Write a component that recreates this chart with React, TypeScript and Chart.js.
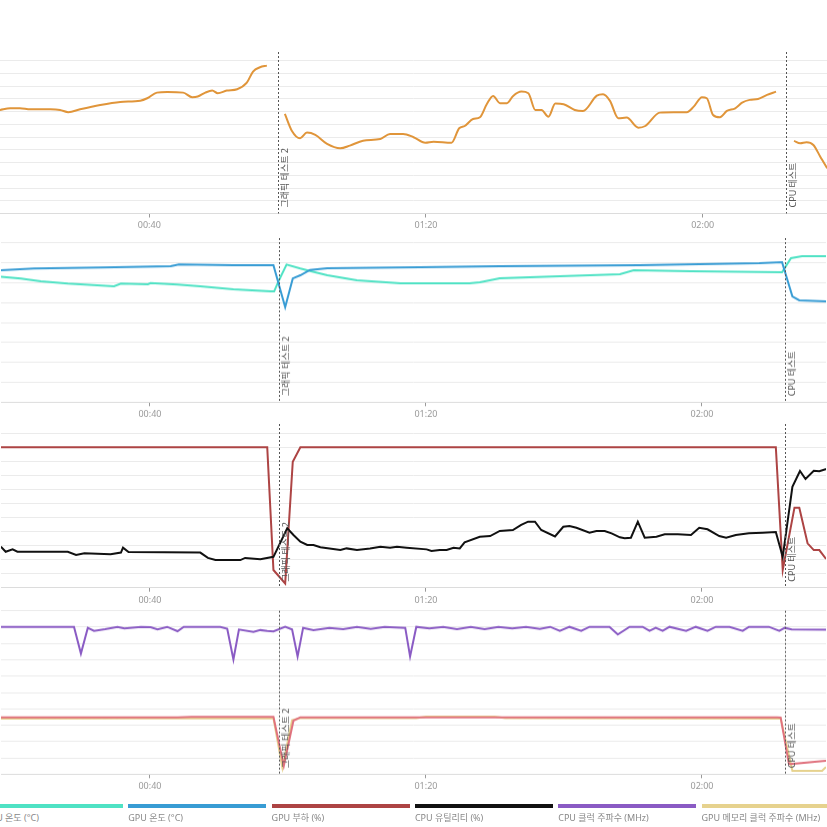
import React, { useEffect, useRef } from "react";
import { Chart, registerables } from "chart.js";

Chart.register(...registerables);

// ---------- axis / markers ----------
const X_MIN = 18.42; // minutes
const X_MAX = 137.97;
const X_TICKS = [40, 80, 120];
const X_TICK_LABELS = ["00:40", "01:20", "02:00"];
const MARKER_TIMES = [58.65, 132.05];
const MARKER_LABELS = ["그래픽 테스트 2", "CPU 테스트"];

// ---------- series: [minutes, value] ----------
const FPS: [number, number | null][] = [
  [18.4, 81.3], [19.9, 82.6], [21.3, 82.6], [22.8, 81.8], [25.7, 81.8], [27.1, 81.3], [28.3, 79.5], [30.0, 81.8],
  [32.9, 85.2], [35.8, 87.6], [38.7, 88.6], [39.7, 90.5], [41.1, 94.9], [42.6, 95.4], [44.9, 94.9], [46.2, 91.3],
  [47.0, 91.8], [48.1, 94.9], [49.1, 96.5], [49.9, 94.4], [51.2, 96.5], [52.7, 97.6], [54.1, 102.7], [55.0, 111.4],
  [56.0, 114.8], [57.0, 116.1],
  [58.3, null],
  [59.6, 78.2], [60.6, 65], [61.8, 59], [62.8, 63.5], [64.0, 61.7], [65.7, 54.6], [67.6, 51.2], [69.0, 53.3],
  [70.9, 57.2], [73.4, 58.5], [74.8, 62.5], [76.7, 62.5], [78.2, 59.9], [79.9, 55.6], [81.1, 56.4], [83.7, 55.6],
  [84.8, 66.9], [85.6, 68.7], [86.8, 74.2], [87.8, 75.6], [88.8, 86], [89.7, 92.3], [90.7, 86.6], [91.7, 86.6],
  [92.6, 92.3], [93.8, 95.7], [94.8, 94.4], [95.8, 81.3], [96.7, 81.3], [97.7, 76], [98.7, 86.3], [99.9, 85.8],
  [101.5, 81.3], [102.7, 80.5], [104.7, 92.5], [105.6, 93.6], [106.6, 88.4], [107.8, 74.8], [109.0, 75.3],
  [110.7, 67.4], [111.7, 68.7], [113.8, 79.2], [115.8, 79.5], [117.7, 79.5], [118.7, 83.9], [119.9, 91.3],
  [120.6, 90.5], [121.5, 77.4], [122.5, 75.6], [123.5, 80.5], [124.7, 82.6], [125.7, 87], [126.8, 89.2],
  [128.0, 89.9], [129.3, 93.1], [130.6, 95.7],
  [132.0, null],
  [133.2, 57], [134.1, 55.1], [135.0, 55.9], [136.0, 53.8], [137.0, 44.6], [138.0, 35.5], [139.1, 26],
];

const CPU_TEMP: [number, number][] = [
  [18.4, 63], [21.3, 62.2], [24.2, 60.8], [28.1, 59.6], [34.8, 58.3], [35.8, 59.6], [39.7, 59.3], [40.1, 59.9],
  [44.0, 59.1], [47.3, 58.3], [52.1, 56.7], [57.5, 55.7], [58.0, 55.7], [58.7, 61.3], [59.8, 69.2], [61.8, 67.2],
  [63.2, 66.0], [65.7, 63.8], [70.0, 61.3], [76.3, 59.8], [86.3, 59.8], [87.8, 60.3], [90.7, 62.3], [99.4, 63.3],
  [108.1, 64.3], [110.1, 66.3], [118.4, 65.8], [131.6, 65.3], [132.9, 72.4], [134.5, 73.4], [139, 73.4],
];

const GPU_TEMP: [number, number][] = [
  [18.4, 66.3], [23.2, 67.2], [32.9, 67.7], [43.0, 68.4], [44.2, 69.2], [52.1, 68.9], [57.9, 68.9], [59.6, 47.8],
  [60.7, 62.2], [61.8, 63.8], [63.2, 66.5], [65.7, 67.4], [79.1, 67.9], [90.7, 68.4], [110.9, 68.9], [119.6, 69.4],
  [128.3, 69.9], [131.6, 70.4], [133.1, 53.2], [134.1, 51.2], [138.0, 50.7], [139, 50.5],
];

const GPU_LOAD: [number, number][] = [
  [18.4, 100], [57.0, 100], [57.9, 12.6], [59.6, 3], [60.7, 89.7], [61.8, 100], [130.7, 100], [131.7, 12.6],
  [133.4, 57], [134.1, 57], [135.3, 31.6], [136.2, 26.8], [137.0, 26.8], [137.9, 21], [139, 19],
];

const CPU_UTIL: [number, number][] = [
  [18.4, 29.2], [19.1, 25.6], [20.1, 27.3], [20.8, 25.6], [28.1, 25.6], [29.3, 23.3], [30.5, 24.5], [34.3, 23.8],
  [35.8, 25.0], [36.1, 28.5], [36.9, 25.4], [47.3, 25.0], [48.4, 21.2], [49.5, 19.7], [53.1, 19.7], [53.8, 21.2],
  [56.0, 20.2], [57.9, 22.0], [59.9, 42.3], [60.8, 37.5], [61.8, 32.8], [62.8, 30.4], [63.7, 30.4], [64.7, 28.8],
  [67.6, 26.9], [68.5, 28.0], [70.0, 26.9], [71.9, 28.0], [73.4, 29.2], [74.8, 28.5], [75.8, 29.2], [77.2, 28.5],
  [80.1, 27.3], [80.8, 26.1], [82.0, 26.9], [83.0, 26.9], [84.0, 28.5], [84.9, 28.0], [85.6, 32.3], [87.8, 36.3],
  [89.3, 36.8], [90.7, 40.4], [92.6, 41.1], [93.8, 44.7], [94.8, 47.0], [95.8, 47.0], [96.7, 41.1], [98.7, 36.5],
  [99.9, 43.4], [100.8, 44.0], [101.8, 42.7], [103.7, 39.2], [104.7, 40.4], [105.9, 40.4], [106.9, 38.7],
  [108.1, 35.9], [108.8, 35.2], [109.7, 35.6], [110.7, 47.0], [111.7, 35.6], [113.4, 36.3], [114.6, 38.0],
  [116.5, 38.0], [118.4, 37.5], [119.6, 42.7], [120.8, 41.6], [122.5, 36.8], [123.5, 35.6], [124.9, 37.5],
  [126.8, 38.7], [128.8, 39.2], [130.7, 39.7], [131.7, 22.0], [133.1, 71.9], [134.2, 83.1], [135.0, 77.4],
  [136.2, 83.3], [137.0, 83.0], [137.9, 84.3], [139, 85],
];

const CPU_CLOCK: [number, number][] = [
  [18.4, 4631], [29.0, 4631], [30.0, 3791], [31.0, 4600], [31.9, 4505], [33.5, 4560], [35.3, 4631], [36.3, 4580],
  [38.7, 4631], [40.1, 4620], [41.1, 4549], [42.5, 4631], [44.0, 4495], [44.9, 4631], [50.2, 4631], [51.2, 4570],
  [52.1, 3601], [52.9, 4549], [55.0, 4473], [56.0, 4530], [57.0, 4505], [57.9, 4490], [59.6, 4631], [60.6, 4549],
  [61.4, 3700], [62.2, 4600], [63.7, 4530], [66.0, 4600], [68.0, 4560], [70.0, 4631], [72.0, 4570], [74.0, 4631],
  [77.0, 4600], [77.7, 3700], [78.6, 4631], [80.5, 4580], [82.5, 4631], [84.5, 4560], [86.5, 4631], [88.5, 4560],
  [90.5, 4631], [92.5, 4580], [94.5, 4631], [96.5, 4570], [98.0, 4631], [99.4, 4505], [100.8, 4631], [102.5, 4505],
  [103.7, 4631], [106.6, 4631], [107.8, 4391], [109.5, 4631], [111.4, 4631], [112.4, 4505], [113.3, 4600],
  [114.3, 4505], [115.3, 4631], [117.7, 4505], [119.1, 4631], [120.8, 4505], [122.0, 4631], [124.0, 4631],
  [125.9, 4505], [126.8, 4631], [129.7, 4631], [131.2, 4505], [132.0, 4600], [133.0, 4549], [139, 4540],
];

const GPU_CLOCK: [number, number][] = [
  [18.4, 1788], [44.0, 1788], [46.0, 1800], [57.9, 1800], [59.4, 262], [60.8, 1684], [61.8, 1790], [130.9, 1790],
  [131.4, 1780], [132.6, 316], [133.6, 335], [137.9, 420], [139, 430],
];

const GPU_MEM_CLOCK: [number, number][] = [
  [18.4, 1747], [57.9, 1760], [59.2, 200], [60.6, 1700], [61.8, 1760], [78.6, 1760], [80.0, 1810], [90.0, 1810],
  [91.5, 1760], [131.4, 1750], [133.1, 104], [137.4, 104], [137.9, 210], [139, 300],
];

// ---------- legend ----------
const LEGEND_LABELS = [
  "CPU 온도 (°C)",
  "GPU 온도 (°C)",
  "GPU 부하 (%)",
  "CPU 유틸리티 (%)",
  "CPU 클럭 주파수 (MHz)",
  "GPU 메모리 클럭 주파수 (MHz)",
];
const COLORS = {
  fps: "#e0953a",
  cpuTemp: "#4fe2c4",
  gpuTemp: "#389cd4",
  gpuLoad: "#ad4444",
  cpuUtil: "#111111",
  cpuClock: "#8a5bc4",
  gpuMem: "#e6d28e",
  gpuClock: "#e0727e",
};
const LEGEND_COLORS = [COLORS.cpuTemp, COLORS.gpuTemp, COLORS.gpuLoad, COLORS.cpuUtil, COLORS.cpuClock, COLORS.gpuMem];

const FONT = "'Noto Sans', 'Noto Sans CJK KR', sans-serif";

const toPts = (arr: [number, number | null][]) => arr.map(([x, y]) => ({ x, y }));

const ds = (label: string, arr: any, color: string, smooth = false) => ({
  label,
  data: toPts(arr),
  borderColor: color,
  backgroundColor: color,
  borderWidth: 2,
  pointRadius: 0,
  tension: smooth ? 0.4 : 0,
  cubicInterpolationMode: smooth ? "monotone" : "default",
  spanGaps: false,
});

const PANELS = [
  { top: 40, padTop: 12, plotH: 161.5, yMax: 126.8, step: 10, datasets: [ds("FPS", FPS, COLORS.fps, true)] },
  {
    top: 228, padTop: 10, plotH: 163.3, yMax: 82.5, step: 10,
    datasets: [ds(LEGEND_LABELS[1], GPU_TEMP, COLORS.gpuTemp), ds(LEGEND_LABELS[0], CPU_TEMP, COLORS.cpuTemp)],
  },
  {
    top: 414, padTop: 10, plotH: 163.7, yMax: 116.6, step: 10,
    datasets: [ds(LEGEND_LABELS[3], CPU_UTIL, COLORS.cpuUtil), ds(LEGEND_LABELS[2], GPU_LOAD, COLORS.gpuLoad)],
  },
  {
    top: 600, padTop: 10.7, plotH: 162.6, yMax: 5136, step: 500,
    datasets: [
      ds(LEGEND_LABELS[4], CPU_CLOCK, COLORS.cpuClock),
      ds("GPU 클럭 주파수 (MHz)", GPU_CLOCK, COLORS.gpuClock),
      ds(LEGEND_LABELS[5], GPU_MEM_CLOCK, COLORS.gpuMem),
    ],
  },
];

const X_AXIS_H = 26.5;

const markerPlugin = {
  id: "markers",
  afterDatasetsDraw(chart: any) {
    const { ctx, chartArea, scales } = chart;
    ctx.save();
    MARKER_TIMES.forEach((t, i) => {
      const x = Math.round(scales.x.getPixelForValue(t)) + 0.5;
      ctx.setLineDash([2, 2]);
      ctx.strokeStyle = "#555";
      ctx.lineWidth = 1;
      ctx.beginPath();
      ctx.moveTo(x, chartArea.top);
      ctx.lineTo(x, chartArea.bottom);
      ctx.stroke();
      ctx.setLineDash([]);
      ctx.save();
      ctx.translate(x + 7, chartArea.bottom - 6);
      ctx.rotate(-Math.PI / 2);
      ctx.font = `9px ${FONT}`;
      ctx.fillStyle = "#555";
      ctx.textAlign = "left";
      ctx.textBaseline = "middle";
      ctx.fillText(MARKER_LABELS[i], 0, 0);
      ctx.restore();
    });
    ctx.restore();
  },
};

function Panel({ cfg }: { cfg: any }) {
  const ref = useRef<HTMLCanvasElement | null>(null);
  useEffect(() => {
    if (!ref.current) return;
    const chart = new Chart(ref.current, {
      type: "line",
      data: { datasets: cfg.datasets },
      options: {
        animation: false,
        responsive: true,
        maintainAspectRatio: false,
        layout: { padding: { top: cfg.padTop, left: 0, right: 0, bottom: 0 } },
        plugins: { legend: { display: false }, tooltip: { enabled: false } },
        scales: {
          x: {
            type: "linear",
            min: X_MIN,
            max: X_MAX,
            afterBuildTicks: (s: any) => {
              s.ticks = X_TICKS.map((v) => ({ value: v }));
            },
            afterFit: (s: any) => {
              s.height = X_AXIS_H;
            },
            ticks: {
              callback: (v: any) => {
                const i = X_TICKS.indexOf(Number(v));
                return i >= 0 ? X_TICK_LABELS[i] : "";
              },
              color: "#999",
              font: { size: 9, family: FONT },
              padding: 3,
              maxRotation: 0,
              autoSkip: false,
            },
            grid: { drawOnChartArea: false, drawTicks: true, tickLength: 4, color: "#999" },
            border: { display: true, color: "#dcdcdc" },
          },
          y: {
            type: "linear",
            min: 0,
            max: cfg.yMax,
            ticks: { display: false, stepSize: cfg.step, includeBounds: false },
            grid: { color: "#ebebeb", drawTicks: false },
            border: { display: false },
          },
        },
      } as any,
      plugins: [markerPlugin],
    });
    return () => chart.destroy();
  }, []);
  const h = cfg.padTop + cfg.plotH + X_AXIS_H;
  return (
    <div style={{ position: "absolute", left: 0, top: cfg.top, width: 827, height: h }}>
      <canvas ref={ref} />
    </div>
  );
}

export default function App() {
  return (
    <div
      style={{
        position: "absolute",
        left: 0,
        top: 0,
        width: 827,
        height: 827,
        overflow: "hidden",
        background: "#fff",
        fontFamily: FONT,
      }}
    >
      {PANELS.map((p, i) => (
        <Panel key={i} cfg={p} />
      ))}
      {LEGEND_LABELS.map((lab, i) => (
        <div key={lab} style={{ position: "absolute", left: -15 + i * 143.3, top: 804, width: 138 }}>
          <div style={{ height: 4, background: LEGEND_COLORS[i] }} />
          <div style={{ fontSize: 9, color: "#888", marginTop: 4, whiteSpace: "nowrap", lineHeight: "11px" }}>{lab}</div>
        </div>
      ))}
    </div>
  );
}
